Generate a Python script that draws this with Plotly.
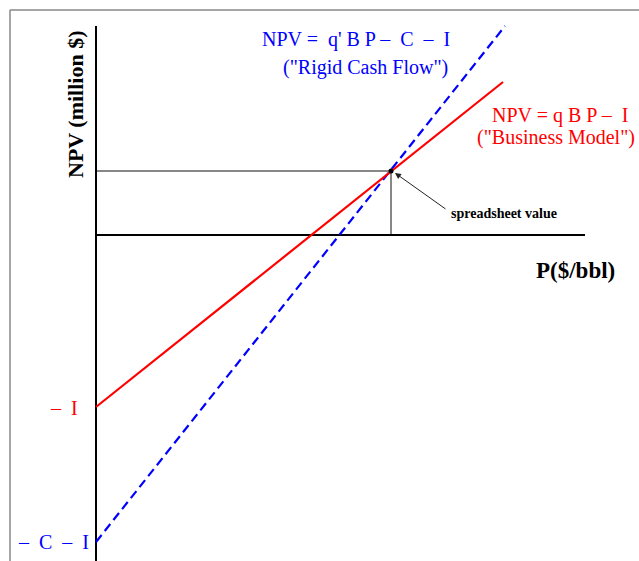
import plotly.graph_objects as go

# Conceptual values (arbitrary units, origin at the axes crossing)
business_P = [0, 407]
business_NPV = [-172, 153]
rigid_P = [0, 409]
rigid_NPV = [-307, 209]
spreadsheet_P = [295]
spreadsheet_NPV = [64]

axis_P_end = 489
axis_NPV_top = 209
axis_NPV_bottom = -326

x_range = [-96, 543]
y_range = [-326, 235]

SERIF = "Liberation Serif, Times New Roman, serif"
RED = "#ff0000"
BLUE = "#0000ff"

fig = go.Figure()

# reference guide lines to the spreadsheet value
fig.add_trace(go.Scatter(x=[0, spreadsheet_P[0], spreadsheet_P[0]],
                         y=[spreadsheet_NPV[0], spreadsheet_NPV[0], 0],
                         mode="lines", line=dict(color="#111111", width=1),
                         hoverinfo="skip", showlegend=False))
# axes
fig.add_trace(go.Scatter(x=[0, axis_P_end], y=[0, 0], mode="lines",
                         line=dict(color="black", width=2), hoverinfo="skip", showlegend=False))
fig.add_trace(go.Scatter(x=[0, 0], y=[axis_NPV_top, axis_NPV_bottom], mode="lines",
                         line=dict(color="black", width=2), hoverinfo="skip", showlegend=False))
# model lines
fig.add_trace(go.Scatter(x=rigid_P, y=rigid_NPV, mode="lines",
                         line=dict(color=BLUE, width=2.2, dash="9px,5px"), showlegend=False))
fig.add_trace(go.Scatter(x=business_P, y=business_NPV, mode="lines",
                         line=dict(color=RED, width=2.2), showlegend=False))
fig.add_trace(go.Scatter(x=spreadsheet_P, y=spreadsheet_NPV, mode="markers",
                         marker=dict(color="black", size=5), showlegend=False))

# frame (top and left edges)
fig.add_shape(type="line", x0=-86, y0=225, x1=543, y1=225, line=dict(color="#888888", width=1.5))
fig.add_shape(type="line", x0=-86, y0=225, x1=-86, y1=-326, line=dict(color="#888888", width=1.5))

def txt(x, y, s, color="black", size=16, bold=False, angle=0):
    fig.add_annotation(x=x, y=y, text=("<b>%s</b>" % s) if bold else s, showarrow=False,
                       textangle=angle, font=dict(family=SERIF, size=size, color=color),
                       xanchor="center", yanchor="middle")

txt(-21, 130, "NPV (million $)", size=22, bold=True, angle=-90)
txt(479, -35, "P($/bbl)", size=23, bold=True)
txt(260, 196, "NPV =  q' B P –  C  –  I", color=BLUE, size=20)
txt(269, 168, "(\"Rigid Cash Flow\")", color=BLUE, size=20)
txt(464, 120, "NPV = q B P –  I", color=RED, size=20)
txt(460, 98, "(\"Business Model\")", color=RED, size=20)
txt(-32, -173, "–  I", color=RED, size=20)
txt(-43, -307, "–  C  –  I", color=BLUE, size=20)
txt(408, 22, "spreadsheet value", size=14, bold=True)

fig.add_annotation(x=299, y=62, ax=351, ay=25, xref="x", yref="y", axref="x", ayref="y",
                   text="", showarrow=True, arrowhead=2, arrowsize=1.2, arrowwidth=1,
                   arrowcolor="#222222")

fig.update_xaxes(range=x_range, visible=False, fixedrange=True)
fig.update_yaxes(range=y_range, visible=False, fixedrange=True)
fig.update_layout(width=639, height=561, autosize=False,
                  margin=dict(l=0, r=0, t=0, b=0),
                  plot_bgcolor="white", paper_bgcolor="white")

fig.write_html("out.html", config={"displayModeBar": False},
               post_script="document.body.style.margin='0';document.body.style.overflow='hidden';")
